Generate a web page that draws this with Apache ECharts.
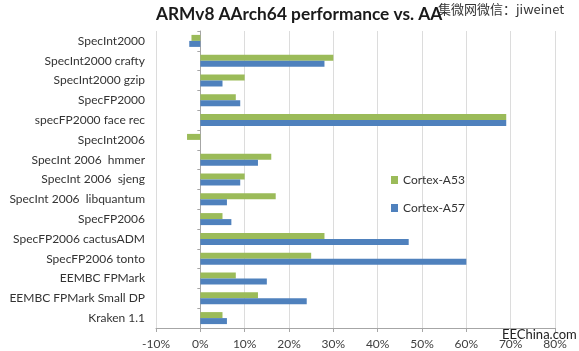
<!DOCTYPE html>
<html>
<head>
<meta charset="utf-8">
<script src="https://cdn.jsdelivr.net/npm/echarts@6/dist/echarts.min.js"></script>
<style>
  html, body { margin: 0; padding: 0; background: #fff; }
  #chart { width: 579px; height: 351px; }
</style>
</head>
<body>
<div id="chart"></div>
<script>
// benchmarks, top to bottom
var categories = [
    'SpecInt2000', 'SpecInt2000 crafty', 'SpecInt2000 gzip', 'SpecFP2000',
    'specFP2000 face rec', 'SpecInt2006', 'SpecInt 2006  hmmer', 'SpecInt 2006  sjeng',
    'SpecInt 2006  libquantum', 'SpecFP2006', 'SpecFP2006 cactusADM', 'SpecFP2006 tonto',
    'EEMBC FPMark', 'EEMBC FPMark Small DP', 'Kraken 1.1'
];
// percent gain
var a53 = [-2, 30, 10, 8, 69, -3, 16, 10, 17, 5, 28, 25, 8, 13, 5];
var a57 = [-2.5, 28, 5, 9, 69, 0, 13, 9, 6, 7, 47, 60, 15, 24, 6];
var xTicks = [-10, 0, 10, 20, 30, 40, 50, 60, 70, 80];

var myChart = echarts.init(document.getElementById('chart'));
var option = {
    animation: false,
    title: {
        text: 'ARMv8 AArch64 performance vs. AA',
        left: 151,
        top: 1,
        textStyle: {
            fontFamily: 'Lato',
            fontSize: 17.3,
            fontWeight: 'bold',
            color: '#1a1a1a'
        }
    },
    legend: {
        orient: 'vertical',
        left: 386,
        top: 169,
        itemWidth: 7,
        itemHeight: 8,
        itemGap: 16,
        icon: 'rect',
        textStyle: { fontFamily: 'Lato', fontSize: 12, color: '#333' },
        data: ['Cortex-A53', 'Cortex-A57']
    },
    grid: {
        left: 156,
        right: 24,
        top: 31,
        bottom: 23,
        outerBoundsMode: 'none'
    },
    xAxis: {
        type: 'value',
        min: xTicks[0],
        max: xTicks[xTicks.length - 1],
        interval: 10,
        axisLine: { show: true, lineStyle: { color: '#a6a6a6' } },
        axisTick: { show: true, length: 4, lineStyle: { color: '#a6a6a6' } },
        axisLabel: {
            formatter: '{value}%',
            margin: 10,
            fontFamily: 'Lato',
            fontSize: 12,
            color: '#404040'
        },
        splitLine: { show: true, lineStyle: { color: '#dcdcdc' } }
    },
    yAxis: {
        type: 'category',
        inverse: true,
        data: categories,
        axisLine: { show: true, onZero: true, lineStyle: { color: '#a6a6a6' } },
        axisTick: { show: true, length: 3, lineStyle: { color: '#a6a6a6' } },
        axisLabel: {
            margin: 11,
            fontFamily: 'Lato',
            fontSize: 12,
            color: '#333'
        }
    },
    series: [
        {
            name: 'Cortex-A53',
            type: 'bar',
            data: a53,
            barWidth: 6,
            barGap: '0%',
            itemStyle: { color: '#9bbb59' }
        },
        {
            name: 'Cortex-A57',
            type: 'bar',
            data: a57,
            barWidth: 6,
            barGap: '0%',
            itemStyle: { color: '#4f81bd' }
        }
    ],
    graphic: [
        {
            type: 'text',
            left: 438,
            top: 3,
            style: { text: '集微网微信：jiweinet', font: '13px "Noto Sans CJK SC"', fill: '#333' }
        },
        {
            type: 'text',
            left: 502,
            top: 328,
            style: { text: 'EEChina.com', font: '13px "Lato"', fill: '#222' }
        }
    ]
};
myChart.setOption(option);
</script>
</body>
</html>
